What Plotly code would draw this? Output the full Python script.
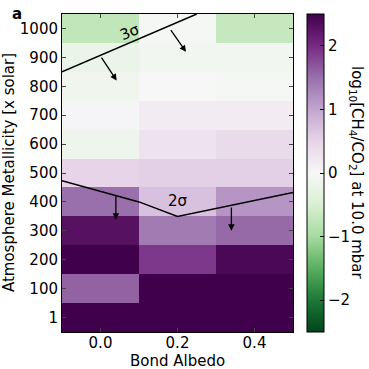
import plotly.graph_objects as go

# data
albedo = [0.0, 0.2, 0.4]
metallicity = [0, 100, 200, 300, 400, 500, 600, 700, 800, 900, 1000]
metallicity_labels = ["1", "100", "200", "300", "400", "500", "600", "700", "800", "900", "1000"]

# log10(CH4/CO2) per metallicity row, columns follow albedo
log_ratio = [
    [2.5, 2.5, 2.5],
    [1.6, 2.5, 2.5],
    [2.5, 1.9, 2.4],
    [2.3, 1.4, 1.55],
    [1.5, 0.7, 1.15],
    [0.5, 0.55, 0.55],
    [-0.15, 0.3, 0.4],
    [0.05, 0.15, 0.15],
    [-0.12, 0.0, -0.03],
    [-0.2, -0.1, -0.1],
    [-0.75, -0.03, -0.7],
]

cbar_ticks = [-2, -1, 0, 1, 2]
cbar_ticklabels = ["\u22122", "\u22121", "0", "1", "2"]
cbar_minor = [-2.4, -2.2, -1.8, -1.6, -1.4, -1.2, -0.8, -0.6, -0.4, -0.2,
              0.2, 0.4, 0.6, 0.8, 1.2, 1.4, 1.6, 1.8, 2.2, 2.4]

sigma3_x = [-0.1, 0.25]
sigma3_y = [850, 1050]
sigma2_x = [-0.1, 0.1, 0.2, 0.5]
sigma2_y = [473, 400, 350, 433]

# arrows: (tail x, tail y, head x, head y)
arrows = [
    (0.0, 904, 0.042, 820),
    (0.18, 999, 0.222, 919),
    (0.04, 425, 0.04, 338),
    (0.34, 386, 0.34, 300),
]

FONT = "DejaVu Sans, Arial, sans-serif"
INK = "black"
ZMIN, ZMAX = -2.5, 2.5
PLOT_L, PLOT_W = 62, 231

fig = go.Figure()
fig.add_trace(
    go.Heatmap(
        x=albedo,
        y=metallicity,
        z=log_ratio,
        colorscale="PRGn_r",
        zmin=ZMIN,
        zmax=ZMAX,
        colorbar=dict(
            xref="container",
            x=307 / 369,
            xanchor="left",
            xpad=0,
            ypad=0,
            y=0.5,
            len=1,
            thickness=17,
            outlinecolor=INK,
            outlinewidth=1,
            tickvals=cbar_ticks,
            ticktext=cbar_ticklabels,
            ticks="inside",
            ticklen=4,
            tickcolor=INK,
            tickfont=dict(size=15, color=INK),
        ),
        hovertemplate="Albedo %{x}<br>Metallicity %{y}<br>%{z:.2f}<extra></extra>",
    )
)
fig.add_trace(go.Scatter(x=sigma3_x, y=sigma3_y, mode="lines", line=dict(color=INK, width=1.5),
                         showlegend=False, hoverinfo="skip"))
fig.add_trace(go.Scatter(x=sigma2_x, y=sigma2_y, mode="lines", line=dict(color=INK, width=1.5),
                         showlegend=False, hoverinfo="skip"))

for tx, ty, hx, hy in arrows:
    fig.add_annotation(x=hx, y=hy, ax=tx, ay=ty, xref="x", yref="y", axref="x", ayref="y",
                       showarrow=True, arrowhead=2, arrowsize=1, arrowwidth=1.3, arrowcolor=INK, text="")

# minor ticks on the colorbar (plotly colorbars have none)
for v in cbar_minor:
    yp = (v - ZMIN) / (ZMAX - ZMIN)
    fig.add_shape(type="line", xref="paper", yref="paper",
                  x0=(321 - PLOT_L) / PLOT_W, x1=(323.5 - PLOT_L) / PLOT_W, y0=yp, y1=yp,
                  line=dict(color=INK, width=1))

fig.add_annotation(x=0.077, y=988, xref="x", yref="y", text="3\u03c3", showarrow=False,
                   textangle=-23, font=dict(size=15, color=INK))
fig.add_annotation(x=0.2, y=402, xref="x", yref="y", text="2\u03c3", showarrow=False,
                   font=dict(size=15, color=INK))
fig.add_annotation(x=-0.225, y=1.035, xref="paper", yref="paper", text="<b>a</b>", showarrow=False,
                   xanchor="left", font=dict(size=15, color=INK))

# axis and colorbar titles
fig.add_annotation(x=0.5, y=-0.092, xref="paper", yref="paper", text="Bond Albedo", showarrow=False,
                   yanchor="middle", borderpad=0, font=dict(size=15, color=INK))
fig.add_annotation(x=-0.229, y=0.5, xref="paper", yref="paper", text="Atmosphere Metallicity [x solar]",
                   showarrow=False, textangle=-90, xanchor="center", font=dict(size=15, color=INK))
fig.add_annotation(x=(357 - PLOT_L) / PLOT_W, y=0.5, xref="paper", yref="paper",
                   text="log<sub>10</sub>[CH<sub>4</sub>/CO<sub>2</sub>] at 10.0 mbar",
                   showarrow=False, textangle=90, xanchor="center", font=dict(size=15, color=INK))

fig.update_layout(
    width=369,
    height=369,
    paper_bgcolor="white",
    plot_bgcolor="white",
    font=dict(family=FONT, color=INK, size=15),
    margin=dict(l=62, r=76, t=14, b=37),
    showlegend=False,
)
fig.update_xaxes(
    range=[-0.1, 0.5],
    tickvals=albedo,
    ticktext=["0.0", "0.2", "0.4"],
    ticks="inside",
    ticklen=4,
    ticklabelstandoff=-3,
    mirror="ticks",
    showline=True,
    linecolor=INK,
    linewidth=1,
    showgrid=False,
    zeroline=False,
    automargin=False,
    tickfont=dict(size=15),
)
fig.update_yaxes(
    range=[-50, 1050],
    tickvals=metallicity,
    ticktext=metallicity_labels,
    ticks="inside",
    ticklen=4,
    mirror="ticks",
    showline=True,
    linecolor=INK,
    linewidth=1,
    showgrid=False,
    zeroline=False,
    automargin=False,
    tickfont=dict(size=15),
)

fig.write_html("out.html", config={"displayModeBar": False},
               post_script="document.body.style.margin='0';")
